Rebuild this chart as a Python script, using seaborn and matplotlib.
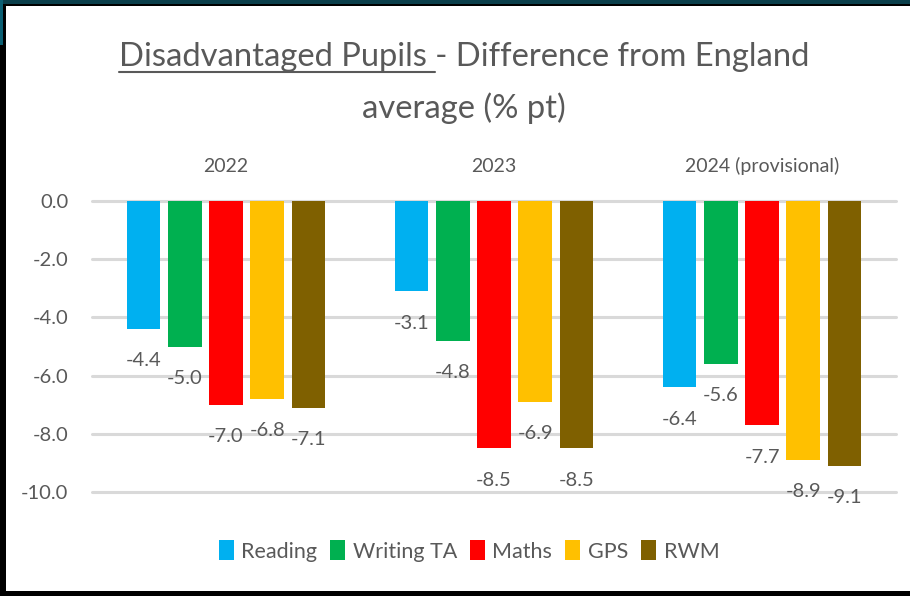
import matplotlib
matplotlib.use("Agg")
import matplotlib.pyplot as plt
import seaborn as sns
import pandas as pd
from matplotlib.patches import Rectangle
from matplotlib.lines import Line2D

# ---- data ----
years = ["2022", "2023", "2024 (provisional)"]
measures = ["Reading", "Writing TA", "Maths", "GPS", "RWM"]
reading = [-4.4, -3.1, -6.4]
writing_ta = [-5.0, -4.8, -5.6]
maths = [-7.0, -8.5, -7.7]
gps = [-6.8, -6.9, -8.9]
rwm = [-7.1, -8.5, -9.1]
yticks = [0, -2, -4, -6, -8, -10]

colors = ["#00B0F0", "#00B050", "#FF0000", "#FFC000", "#7F6000"]
TXT = "#595959"

sns.set_theme(style="white")
plt.rcParams["font.family"] = ["Lato", "DejaVu Sans"]
plt.rcParams["axes.unicode_minus"] = False

rows = []
for m, vals in zip(measures, [reading, writing_ta, maths, gps, rwm]):
    for y, v in zip(years, vals):
        rows.append({"Year": y, "Measure": m, "Value": v})
df = pd.DataFrame(rows)

W, H = 910, 596
fig = plt.figure(figsize=(W / 100, H / 100), dpi=100)
fig.patch.set_facecolor("black")
# white card with dark frame
fig.patches.append(Rectangle((6 / W, 5 / H), (W - 6) / W, (H - 11) / H,
                             transform=fig.transFigure, facecolor="white",
                             edgecolor="none", zorder=-5))
fig.patches.append(Rectangle((0, 1 - 4 / H), 1, 4 / H, transform=fig.transFigure,
                             facecolor="#0b3f4b", edgecolor="none", zorder=-5))
fig.patches.append(Rectangle((0, 1 - 45 / H), 3 / W, 45 / H, transform=fig.transFigure,
                             facecolor="#0b5f73", edgecolor="none", zorder=-5))

ax = fig.add_axes([92 / W, 1 - 492 / H, (896 - 92) / W, (492 - 201) / H])
ax.set_zorder(1)
ax.set_facecolor("white")
sns.barplot(data=df, x="Year", y="Value", hue="Measure", order=years,
            hue_order=measures, palette=colors, width=0.77, gap=0.18,
            saturation=1, linewidth=0, legend=False, ax=ax, errorbar=None)

ax.set_ylim(-10, 0)
ax.set_yticks(yticks)
ax.set_yticklabels([f"{t:.1f}" for t in yticks])
ax.set_axisbelow(True)
ax.yaxis.grid(True, color="#D9D9D9", linewidth=2.2)
ax.xaxis.grid(False)
for gl in ax.get_ygridlines():
    gl.set_clip_on(False)
for s in ax.spines.values():
    s.set_visible(False)
ax.set_xlabel("")
ax.set_ylabel("")
ax.xaxis.tick_top()
ax.tick_params(axis="x", length=0, pad=19, labelsize=14, labelcolor=TXT)
ax.tick_params(axis="y", length=0, pad=17, labelsize=14.5, labelcolor=TXT)

# data labels
for cont in ax.containers:
    for bar in cont:
        h = bar.get_height()
        x = bar.get_x() + bar.get_width() / 2
        ax.annotate(f"{h:.1f}", (x, h), xytext=(0, -23), textcoords="offset points",
                    ha="center", va="center", fontsize=14.5, color=TXT,
                    annotation_clip=False)

# legend
handles = [Rectangle((0, 0), 1, 1, facecolor=c, edgecolor="none") for c in colors]
fig.legend(handles, measures, loc="center", bbox_to_anchor=(469 / W, 1 - 551 / H),
           ncol=5, frameon=False, fontsize=15.5, handlelength=0.7, handleheight=1.0,
           handletextpad=0.35, columnspacing=0.6, labelcolor=TXT)

# title (two lines, first part underlined)
line1 = "Disadvantaged Pupils - Difference from England"
line2 = "average (% pt)"
cx = 464 / W
fs = 24
fig.canvas.draw()
r = fig.canvas.get_renderer()
tmp = fig.text(0, 0, line1, fontsize=fs)
w = tmp.get_window_extent(r).width
tmp.remove()
fs = fs * 692 / w
t1 = fig.text(cx, 1 - 66 / H, line1, ha="center", va="baseline", fontsize=fs, color=TXT)
t2 = fig.text(cx, 1 - 118 / H, line2, ha="center", va="baseline", fontsize=fs, color=TXT)
fig.canvas.draw()
bb = t1.get_window_extent(r)
tmp = fig.text(0, 0, "Disadvantaged Pupils -", fontsize=fs)
wp = tmp.get_window_extent(r).width
tmp.remove()
tmp = fig.text(0, 0, "-", fontsize=fs)
wd = tmp.get_window_extent(r).width
tmp.remove()
x0 = bb.x0
x1 = bb.x0 + wp - wd
yl = H - 72
fig.add_artist(Line2D([x0 / W, x1 / W], [yl / H, yl / H], transform=fig.transFigure,
                      color=TXT, linewidth=1.5))

fig.savefig("out.png", dpi=100, facecolor=fig.get_facecolor())
